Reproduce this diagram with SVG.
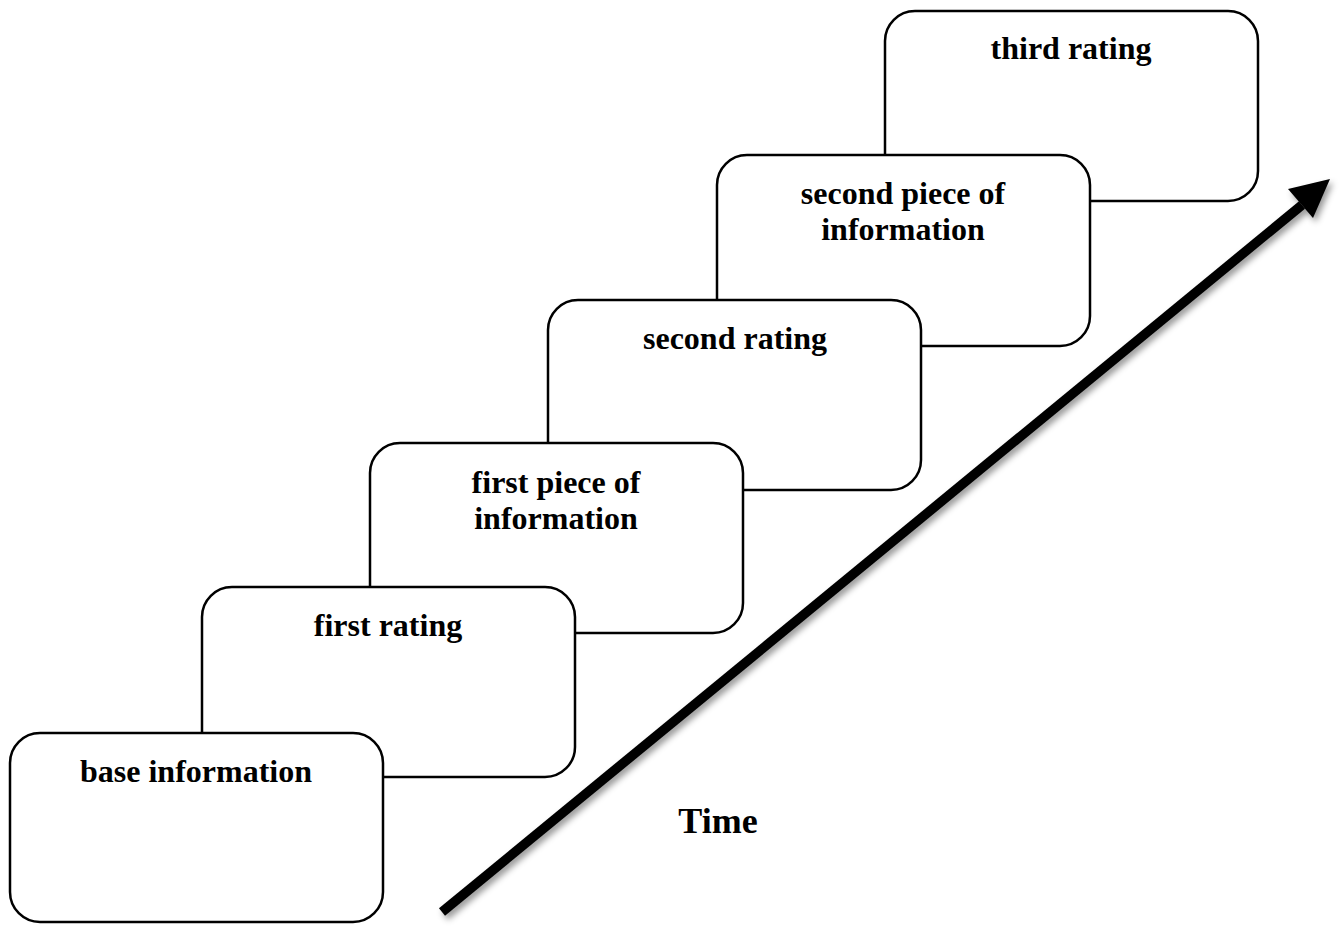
<svg xmlns="http://www.w3.org/2000/svg" width="1339" height="929" viewBox="0 0 1339 929">
<style>
.box{fill:#fff;stroke:#000;stroke-width:2.5}
.lbl{font-family:'Liberation Serif','Times New Roman',Times,serif;font-weight:700;font-size:32px;fill:#000;text-anchor:middle}
.time{font-family:'Liberation Serif','Times New Roman',Times,serif;font-weight:700;font-size:36px;fill:#000;text-anchor:middle}
</style>
<defs>
<filter id="sh" x="-10%" y="-10%" width="130%" height="130%">
<feDropShadow dx="3" dy="4" stdDeviation="3" flood-color="#000" flood-opacity="0.4"/>
</filter>
</defs>
<g id="third-rating"><rect class="box" x="885" y="11" width="373" height="190" rx="30"/><text class="lbl" x="1071" y="59">third rating</text></g>
<g id="second-piece"><rect class="box" x="717" y="155" width="373" height="191" rx="30"/><text class="lbl" x="903" y="204">second piece of</text><text class="lbl" x="903" y="240">information</text></g>
<g id="second-rating"><rect class="box" x="548" y="300" width="373" height="190" rx="30"/><text class="lbl" x="735" y="349">second rating</text></g>
<g id="first-piece"><rect class="box" x="370" y="443" width="373" height="190" rx="30"/><text class="lbl" x="556" y="493">first piece of</text><text class="lbl" x="556" y="529">information</text></g>
<g id="first-rating"><rect class="box" x="202" y="587" width="373" height="190" rx="30"/><text class="lbl" x="388" y="636">first rating</text></g>
<g id="base-information"><rect class="box" x="10" y="733" width="373" height="189" rx="30"/><text class="lbl" x="196" y="782">base information</text></g>
<g id="connectors" filter="url(#sh)">
<line x1="442" y1="912" x2="1302" y2="205" stroke="#000" stroke-width="9.5"/>
<polygon points="1330,179 1288,189 1313,218" fill="#000"/>
</g>
<text class="time" x="718" y="833">Time</text>
</svg>
